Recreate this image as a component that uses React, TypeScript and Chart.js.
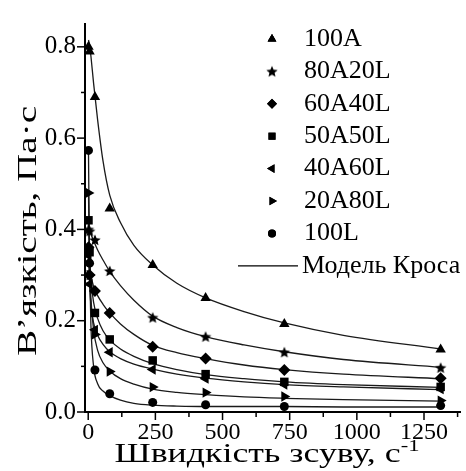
import React, { useEffect, useRef } from 'react';
import { Chart, registerables } from 'chart.js';
import { drawPoint } from 'chart.js/helpers';

Chart.register(...registerables);

// ---- measured points ----
const shearRates = [1, 5, 25, 80, 240, 437, 730, 1312];
const visc100A = [0.80, 0.79, 0.69, 0.446, 0.322, 0.25, 0.193, 0.137];
const visc80A20L = [0.40, 0.396, 0.377, 0.309, 0.207, 0.165, 0.131, 0.097];
const visc60A40L = [0.361, 0.30, 0.265, 0.217, 0.143, 0.117, 0.092, 0.074];
const visc50A50L = [0.42, 0.35, 0.217, 0.159, 0.113, 0.083, 0.066, 0.055];
const visc40A60L = [0.343, 0.28, 0.18, 0.131, 0.093, 0.073, 0.060, 0.050];
const visc20A80L = [0.48, 0.30, 0.17, 0.0885, 0.0546, 0.0425, 0.034, 0.025];
const visc100L = [0.573, 0.326, 0.092, 0.040, 0.021, 0.016, 0.012, 0.014];

// ---- Cross model curves ----
const curveRates = [1, 3, 6, 10, 20, 35, 55, 80, 120, 170, 240, 330, 437, 580, 730, 950, 1312];
const cross100A = [0.815, 0.81, 0.80, 0.78, 0.72, 0.64, 0.55, 0.475, 0.415, 0.365, 0.322, 0.282, 0.25, 0.22, 0.195, 0.168, 0.138];
const cross80A20L = [0.405, 0.40, 0.397, 0.39, 0.375, 0.355, 0.333, 0.308, 0.277, 0.245, 0.21, 0.185, 0.165, 0.147, 0.132, 0.115, 0.098];
const cross60A40L = [0.36, 0.34, 0.32, 0.30, 0.275, 0.255, 0.236, 0.217, 0.193, 0.17, 0.146, 0.13, 0.117, 0.103, 0.093, 0.083, 0.073];
const cross50A50L = [0.42, 0.38, 0.33, 0.29, 0.24, 0.205, 0.178, 0.158, 0.138, 0.122, 0.106, 0.093, 0.082, 0.073, 0.066, 0.06, 0.054];
const cross40A60L = [0.345, 0.31, 0.27, 0.235, 0.195, 0.168, 0.148, 0.132, 0.117, 0.105, 0.094, 0.083, 0.074, 0.066, 0.06, 0.055, 0.049];
const cross20A80L = [0.48, 0.40, 0.31, 0.25, 0.18, 0.135, 0.108, 0.09, 0.073, 0.061, 0.05, 0.043, 0.038, 0.033, 0.03, 0.027, 0.024];
const cross100L = [0.57, 0.44, 0.30, 0.19, 0.10, 0.062, 0.046, 0.036, 0.026, 0.019, 0.015, 0.013, 0.012, 0.012, 0.012, 0.011, 0.011];

const seriesNames = ['100A', '80A20L', '60A40L', '50A50L', '40A60L', '20A80L', '100L'];
const modelLabel = 'Модель Кроса';
const xTitleMain = 'Швидкість зсуву, с';
const xTitleSup = '-1';
const yTitle = 'В’язкість, Па·с';

const FONT = '"Liberation Serif", "Times New Roman", serif';

function makeStar(r: number): HTMLCanvasElement {
  const s = Math.ceil(r * 2) + 2;
  const c = document.createElement('canvas');
  c.width = s;
  c.height = s;
  const ctx = c.getContext('2d')!;
  const cx = s / 2;
  const cy = s / 2 + 0.5;
  ctx.beginPath();
  for (let i = 0; i < 10; i++) {
    const a = -Math.PI / 2 + (i * Math.PI) / 5;
    const rr = i % 2 === 0 ? r : r * 0.45;
    const px = cx + Math.cos(a) * rr;
    const py = cy + Math.sin(a) * rr;
    if (i === 0) ctx.moveTo(px, py);
    else ctx.lineTo(px, py);
  }
  ctx.closePath();
  ctx.fillStyle = '#000';
  ctx.fill();
  return c;
}

export default function App() {
  const ref = useRef<HTMLCanvasElement>(null);

  useEffect(() => {
    if (!ref.current) return;
    const star = makeStar(6);
    const styles: any[] = [
      { pointStyle: 'triangle', rotation: 0, radius: 6 },
      { pointStyle: star, rotation: 0, radius: 6 },
      { pointStyle: 'rectRot', rotation: 0, radius: 6 },
      { pointStyle: 'rect', rotation: 0, radius: 6 },
      { pointStyle: 'triangle', rotation: -90, radius: 6 },
      { pointStyle: 'triangle', rotation: 90, radius: 6 },
      { pointStyle: 'circle', rotation: 0, radius: 4.5 },
    ];
    const pointSeries = [visc100A, visc80A20L, visc60A40L, visc50A50L, visc40A60L, visc20A80L, visc100L];
    const curveSeries = [cross100A, cross80A20L, cross60A40L, cross50A50L, cross40A60L, cross20A80L, cross100L];

    const pointDatasets = pointSeries.map((vals, i) => ({
      label: seriesNames[i],
      data: vals.map((v, j) => ({ x: shearRates[j], y: v })),
      showLine: false,
      pointStyle: styles[i].pointStyle,
      pointRotation: styles[i].rotation,
      pointRadius: styles[i].radius,
      pointBackgroundColor: '#000',
      pointBorderColor: '#000',
      pointBorderWidth: 0,
      order: 0,
    }));
    const curveDatasets = curveSeries.map((vals, i) => ({
      label: modelLabel + ' ' + seriesNames[i],
      data: vals.map((v, j) => ({ x: curveRates[j], y: v })),
      showLine: true,
      borderColor: '#1a1a1a',
      borderWidth: 1.3,
      pointRadius: 0,
      cubicInterpolationMode: 'monotone',
      fill: false,
      order: 1,
    }));

    const axisTicks = {
      id: 'axisTicks',
      afterDraw(chart: any) {
        const { ctx, chartArea, scales } = chart;
        ctx.save();
        ctx.strokeStyle = '#000';
        ctx.lineWidth = 1.5;
        for (let k = 0; k <= 11; k++) {
          const v = k * 125;
          const px = scales.x.getPixelForValue(v);
          const len = k % 2 === 0 ? 8 : 5;
          ctx.beginPath();
          ctx.moveTo(px, chartArea.bottom);
          ctx.lineTo(px, chartArea.bottom + len);
          ctx.stroke();
        }
        for (let k = 0; k <= 8; k++) {
          const v = k * 0.1;
          const py = scales.y.getPixelForValue(v);
          const len = k % 2 === 0 ? 8 : 4;
          ctx.beginPath();
          ctx.moveTo(chartArea.left, py);
          ctx.lineTo(chartArea.left - len, py);
          ctx.stroke();
        }
        ctx.restore();
      },
    };

    const axisTitles = {
      id: 'axisTitles',
      afterDraw(chart: any) {
        const { ctx } = chart;
        ctx.save();
        ctx.fillStyle = '#000';
        ctx.textBaseline = 'alphabetic';
        // x title (horizontally stretched like the reference)
        const mainFont = '27px ' + FONT;
        const supFont = '17px ' + FONT;
        ctx.font = mainFont;
        const w1 = ctx.measureText(xTitleMain).width;
        ctx.font = supFont;
        const w2 = ctx.measureText(xTitleSup).width;
        const targetX = 305;
        const sx = targetX / (w1 + w2);
        const cx = 267;
        const baseY = 462;
        ctx.save();
        ctx.translate(cx - targetX / 2, baseY);
        ctx.scale(sx, 1);
        ctx.textAlign = 'left';
        ctx.font = mainFont;
        ctx.fillText(xTitleMain, 0, 0);
        ctx.font = supFont;
        ctx.fillText(xTitleSup, w1, -11);
        ctx.restore();
        // y title
        ctx.font = mainFont;
        const wy = ctx.measureText(yTitle).width;
        const targetY = 250;
        const sy = targetY / wy;
        ctx.save();
        ctx.translate(36, 231);
        ctx.rotate(-Math.PI / 2);
        ctx.scale(sy, 1);
        ctx.textAlign = 'center';
        ctx.fillText(yTitle, 0, 0);
        ctx.restore();
        ctx.restore();
      },
    };

    const customLegend = {
      id: 'customLegend',
      afterDraw(chart: any) {
        const { ctx } = chart;
        ctx.save();
        ctx.fillStyle = '#000';
        ctx.strokeStyle = '#000';
        ctx.font = '26px ' + FONT;
        ctx.textBaseline = 'middle';
        ctx.textAlign = 'left';
        const y0 = 39;
        const dy = 32.4;
        seriesNames.forEach((name, i) => {
          const y = y0 + i * dy;
          drawPoint(ctx, { pointStyle: styles[i].pointStyle, rotation: styles[i].rotation, radius: styles[i].radius === 6 ? 5 : 4, borderWidth: 0 }, 272, y);
          ctx.fill();
          ctx.fillText(name, 304, y);
        });
        const yl = y0 + 7 * dy;
        ctx.lineWidth = 1.3;
        ctx.beginPath();
        ctx.moveTo(238, yl);
        ctx.lineTo(298, yl);
        ctx.stroke();
        ctx.fillText(modelLabel, 302, yl);
        ctx.restore();
      },
    };

    const chart = new Chart(ref.current, {
      type: 'scatter',
      data: { datasets: [...pointDatasets, ...curveDatasets] as any },
      plugins: [axisTicks, axisTitles, customLegend],
      options: {
        responsive: false,
        animation: false,
        layout: { padding: { left: 0, right: 3, top: 12, bottom: 0 } },
        plugins: { legend: { display: false }, tooltip: { enabled: false } },
        scales: {
          x: {
            type: 'linear',
            min: -12,
            max: 1384,
            grid: { display: false, drawTicks: false },
            border: { display: true, color: '#000', width: 2 },
            ticks: {
              stepSize: 250,
              includeBounds: false,
              color: '#000',
              padding: 6,
              maxRotation: 0,
              autoSkip: false,
              font: { family: FONT, size: 24 },
              callback: (v: any) => String(Math.round(Number(v))),
            },
            title: { display: false },
            afterFit: (s: any) => {
              s.height = 59;
            },
          },
          y: {
            type: 'linear',
            min: 0,
            max: 0.85,
            grid: { display: false, drawTicks: false },
            border: { display: true, color: '#000', width: 2 },
            ticks: {
              stepSize: 0.2,
              includeBounds: false,
              color: '#000',
              padding: 9,
              font: { family: FONT, size: 25 },
              callback: (v: any) => Number(v).toFixed(1),
            },
            title: { display: false },
            afterFit: (s: any) => {
              s.width = 85;
            },
          },
        },
      } as any,
    });
    return () => chart.destroy();
  }, []);

  return (
    <div style={{ position: 'fixed', left: 0, top: 0, width: 466, height: 471, background: '#fff' }}>
      <canvas ref={ref} width={466} height={471} style={{ width: 466, height: 471, display: 'block' }} />
    </div>
  );
}
